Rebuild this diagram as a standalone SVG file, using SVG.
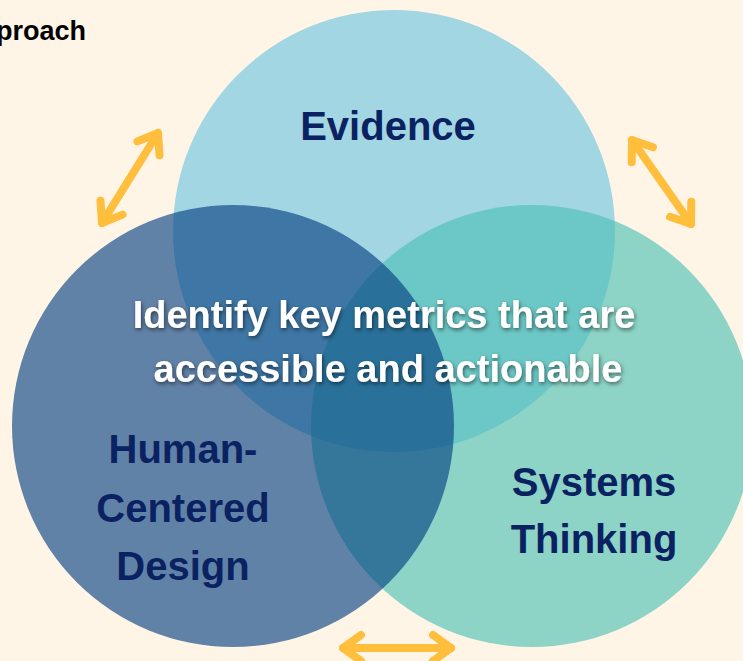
<svg xmlns="http://www.w3.org/2000/svg" width="743" height="661" viewBox="0 0 743 661">
  <defs>
    <style>
      .label { font-family: "Liberation Sans", Arial, sans-serif; font-weight: bold; fill: #0B2262; font-size: 40px; text-anchor: middle; }
      .center { font-family: "Liberation Sans", Arial, sans-serif; font-weight: bold; fill: #FFFFFF; font-size: 38px; text-anchor: middle; }
      .title { font-family: "Liberation Sans", Arial, sans-serif; font-weight: bold; fill: #000000; font-size: 27px; text-anchor: end; }
      .arrow { fill: none; stroke: #FFBE3C; stroke-width: 8; stroke-linecap: round; stroke-linejoin: round; }
    </style>
    <marker id="head" markerUnits="userSpaceOnUse" markerWidth="40" markerHeight="40" viewBox="-25 -20 30 40" refX="0" refY="0" orient="auto-start-reverse" overflow="visible">
      <path d="M-18,-13 L0,0 L-18,13" fill="none" stroke="#FFBE3C" stroke-width="8" stroke-linecap="round" stroke-linejoin="round"/>
    </marker>
    <filter id="shadow" x="-10%" y="-30%" width="120%" height="160%">
      <feDropShadow dx="1" dy="2" stdDeviation="2" flood-color="#000000" flood-opacity="0.55"/>
    </filter>
  </defs>

  <!-- page background -->
  <rect x="0" y="0" width="743" height="661" fill="#FFF5E6"/>

  <!-- heading, cut at the left edge -->
  <text class="title" x="86" y="40">proach</text>

  <!-- Venn circles -->
  <g id="evidence">
    <circle cx="394" cy="231" r="221" fill="#A3D6E3"/>
    <text class="label" x="388" y="140">Evidence</text>
  </g>
  <g id="systems-thinking">
    <circle cx="532" cy="426" r="221" fill="rgb(77,192,181)" fill-opacity="0.64"/>
    <text class="label" x="594" y="496">Systems</text>
    <text class="label" x="594" y="553">Thinking</text>
  </g>
  <g id="human-centered-design">
    <circle cx="233" cy="426" r="221" fill="rgb(0,60,127)" fill-opacity="0.62"/>
    <text class="label" x="183" y="463">Human-</text>
    <text class="label" x="183" y="522">Centered</text>
    <text class="label" x="183" y="580">Design</text>
  </g>

  <!-- shared centre statement -->
  <g id="key-metrics" filter="url(#shadow)">
    <text class="center" x="384" y="328">Identify key metrics that are</text>
    <text class="center" x="388" y="382">accessible and actionable</text>
  </g>

  <!-- two-way connectors between the circles -->
  <g id="connectors">
    <path class="arrow" d="M158,133 L102,223" marker-start="url(#head)" marker-end="url(#head)"/>
    <path class="arrow" d="M632,140 L691,224" marker-start="url(#head)" marker-end="url(#head)"/>
    <path class="arrow" d="M343,648 L451,648" marker-start="url(#head)" marker-end="url(#head)"/>
  </g>
</svg>
